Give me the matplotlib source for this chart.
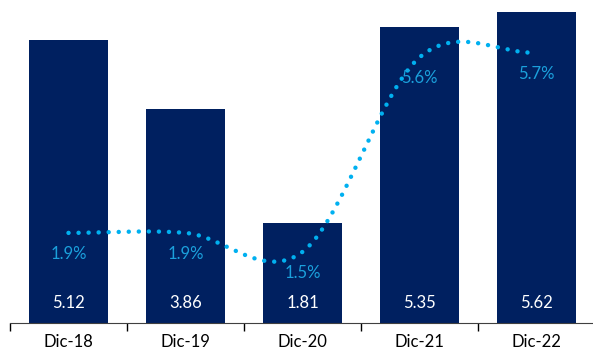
import numpy as np
import matplotlib
matplotlib.use("Agg")
import matplotlib.pyplot as plt

# data
categories = ["Dic-18", "Dic-19", "Dic-20", "Dic-21", "Dic-22"]
bar_values = [5.12, 3.86, 1.81, 5.35, 5.62]
rate_values = [1.9, 1.9, 1.5, 5.6, 5.7]
bar_labels = ["5.12", "3.86", "1.81", "5.35", "5.62"]
rate_labels = ["1.9%", "1.9%", "1.5%", "5.6%", "5.7%"]

BAR_COLOR = "#002060"
LINE_COLOR = "#00B0F0"
LABEL_COLOR = "#1BA0DC"

plt.rcParams["font.family"] = ["Lato", "DejaVu Sans"]


def smooth(xs, ys, steps=60):
    """Hermite spline through the points, similar to a smoothed Excel line"""
    xs = np.asarray(xs, dtype=float)
    ys = np.asarray(ys, dtype=float)
    n = len(ys)
    m = np.zeros(n)
    for i in range(n):
        if i == 0:
            m[i] = ys[1] - ys[0]
        elif i == n - 1:
            m[i] = ys[-1] - ys[-2]
        else:
            m[i] = (ys[i + 1] - ys[i - 1]) / 2
    out_x, out_y = [], []
    for i in range(n - 1):
        t = np.linspace(0, 1, steps, endpoint=(i == n - 2))
        h00 = 2 * t**3 - 3 * t**2 + 1
        h10 = t**3 - 2 * t**2 + t
        h01 = -2 * t**3 + 3 * t**2
        h11 = t**3 - t**2
        out_y.append(h00 * ys[i] + h10 * m[i] + h01 * ys[i + 1] + h11 * m[i + 1])
        out_x.append(xs[i] + t * (xs[i + 1] - xs[i]))
    return np.concatenate(out_x), np.concatenate(out_y)


W, H = 593, 354
fig = plt.figure(figsize=(W / 100, H / 100), dpi=100)
ax = fig.add_axes([10 / W, 31 / H, 585 / W, 332 / H])

x = np.arange(len(categories))
ax.bar(x, bar_values, width=0.675, color=BAR_COLOR, zorder=2)
for xi, lab in zip(x, bar_labels):
    ax.annotate(lab, (xi, 0), xytext=(0, 20), textcoords="offset pixels",
                ha="center", va="center", color="white", fontsize=12)

ax.set_xlim(-0.5, len(categories) - 0.5)
ax.set_ylim(0, 6)
ax.set_yticks([])
ax.set_xticks(x)
ax.set_xticklabels(categories, fontsize=12)
ax.set_xticks(np.arange(-0.5, len(categories)), minor=True)
ax.tick_params(axis="x", which="major", length=0, pad=8)
ax.tick_params(axis="x", which="minor", length=6, width=1, direction="out")
for side in ["top", "right", "left"]:
    ax.spines[side].set_visible(False)
ax.spines["bottom"].set_color("#404040")

# secondary axis for the rate line
ax2 = ax.twinx()
ax2.set_ylim(0, 7)
ax2.set_yticks([])
for side in ax2.spines:
    ax2.spines[side].set_visible(False)

sx, sy = smooth(x, rate_values)
ax2.plot(sx, sy, color=LINE_COLOR, linewidth=3.2,
         linestyle=(0, (0.01, 2.25)), dash_capstyle="round", zorder=3)
for xi, yi, lab in zip(x, rate_values, rate_labels):
    ax2.annotate(lab, (xi, yi), xytext=(0, -21), textcoords="offset pixels",
                 ha="center", va="center", color=LABEL_COLOR, fontsize=12)

fig.savefig("out.png", dpi=100)
